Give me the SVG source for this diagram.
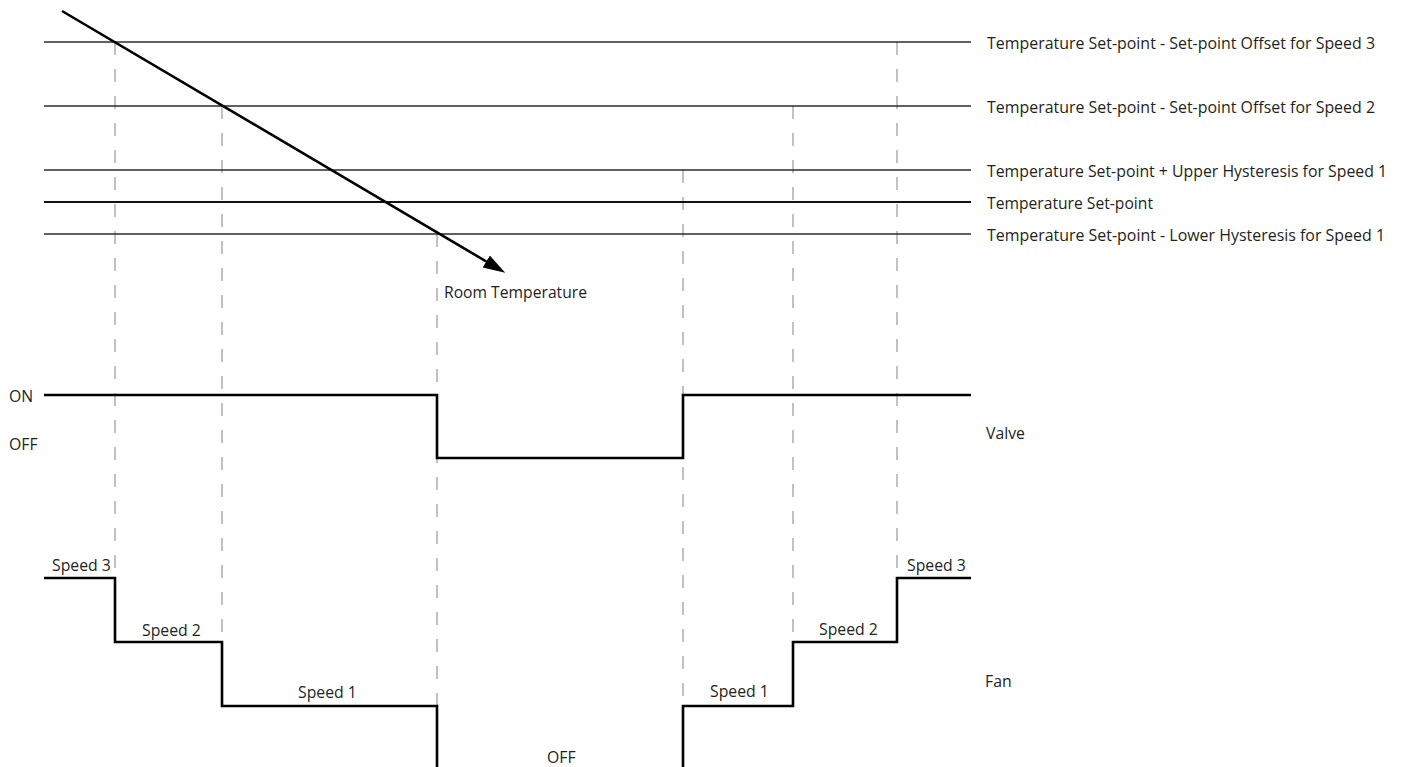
<svg xmlns="http://www.w3.org/2000/svg" width="1403" height="767" viewBox="0 0 1403 767">
<style>
.bg{fill:#ffffff}
.thr{stroke:#2b2b2b;stroke-width:1.3;fill:none}
.sp{stroke:#111;stroke-width:2.2;fill:none}
.guide{stroke:#a8a8a8;stroke-width:1.4;stroke-dasharray:13 14;fill:none}
.sig{stroke:#000;stroke-width:2.6;fill:none;stroke-linejoin:miter;stroke-linecap:butt}
.arrow{stroke:#000;stroke-width:2.6;fill:none}
text{font-family:"Open Sans","Liberation Sans",sans-serif;font-size:15.8px;fill:#231f20}
</style>
<defs>
<marker id="ah" markerUnits="userSpaceOnUse" markerWidth="24" markerHeight="16" refX="2" refY="8" orient="auto">
<path d="M0,1 L22,8 L0,15 Z" fill="#000"/>
</marker>
</defs>
<rect class="bg" x="0" y="0" width="1403" height="767"/>

<g id="guides">
<line class="guide" x1="115" y1="42" x2="115" y2="578"/>
<line class="guide" x1="222" y1="106" x2="222" y2="642"/>
<line class="guide" x1="437" y1="234" x2="437" y2="706"/>
<line class="guide" x1="683" y1="170" x2="683" y2="706"/>
<line class="guide" x1="793" y1="106" x2="793" y2="642"/>
<line class="guide" x1="897" y1="42" x2="897" y2="578"/>
</g>

<g id="threshold-sp3">
<line class="thr" x1="44" y1="42" x2="971" y2="42"/>
<text x="987" y="48.5" textLength="388" lengthAdjust="spacingAndGlyphs">Temperature Set-point - Set-point Offset for Speed 3</text>
</g>
<g id="threshold-sp2">
<line class="thr" x1="44" y1="106" x2="971" y2="106"/>
<text x="987" y="112.5" textLength="388" lengthAdjust="spacingAndGlyphs">Temperature Set-point - Set-point Offset for Speed 2</text>
</g>
<g id="threshold-upper">
<line class="thr" x1="44" y1="170" x2="971" y2="170"/>
<text x="987" y="176.5" textLength="400" lengthAdjust="spacingAndGlyphs">Temperature Set-point + Upper Hysteresis for Speed 1</text>
</g>
<g id="threshold-setpoint">
<line class="sp" x1="44" y1="202" x2="971" y2="202"/>
<text x="987" y="208.5" textLength="166" lengthAdjust="spacingAndGlyphs">Temperature Set-point</text>
</g>
<g id="threshold-lower">
<line class="thr" x1="44" y1="234" x2="971" y2="234"/>
<text x="987" y="240.5" textLength="398" lengthAdjust="spacingAndGlyphs">Temperature Set-point - Lower Hysteresis for Speed 1</text>
</g>

<g id="room-temperature">
<line class="arrow" x1="62" y1="11" x2="488" y2="262.5" marker-end="url(#ah)"/>
<text x="444" y="298" textLength="143" lengthAdjust="spacingAndGlyphs">Room Temperature</text>
</g>

<g id="valve">
<path class="sig" d="M44,395 H437 V458 H683 V395 H971"/>
<text x="9" y="402">ON</text>
<text x="9" y="449.5">OFF</text>
<text x="986" y="438.5">Valve</text>
</g>

<g id="fan">
<path class="sig" d="M44,578 H115 V642 H222 V706 H437 V770"/>
<path class="sig" d="M683,770 V706 H793 V642 H897 V578 H971"/>
<text x="52" y="571">Speed 3</text>
<text x="142" y="635.5">Speed 2</text>
<text x="298" y="698">Speed 1</text>
<text x="547" y="763">OFF</text>
<text x="710" y="697">Speed 1</text>
<text x="819" y="635">Speed 2</text>
<text x="907" y="570.5">Speed 3</text>
<text x="985" y="687">Fan</text>
</g>
</svg>
